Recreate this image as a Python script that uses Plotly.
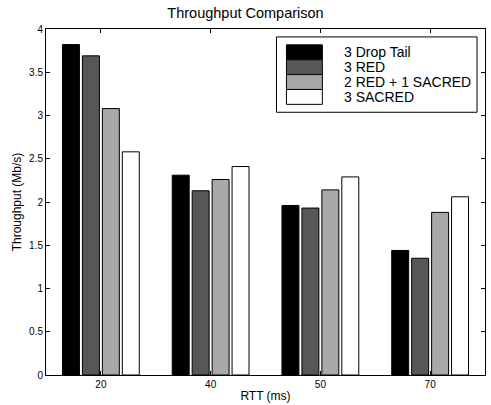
import plotly.graph_objects as go

categories = ["20", "40", "50", "70"]
series_names = ["3 Drop Tail", "3 RED", "2 RED + 1 SACRED", "3 SACRED"]
drop_tail = [3.82, 2.31, 1.96, 1.44]
red = [3.69, 2.13, 1.93, 1.35]
red_sacred = [3.08, 2.26, 2.14, 1.88]
sacred = [2.58, 2.41, 2.29, 2.06]
y_ticks = [0, 0.5, 1, 1.5, 2, 2.5, 3, 3.5, 4]
y_tick_labels = ["0", "0.5", "1", "1.5", "2", "2.5", "3", "3.5", "4"]

colors = ["#000000", "#575757", "#a9a9a9", "#ffffff"]
series = [drop_tail, red, red_sacred, sacred]

fig = go.Figure()
for name, vals, col in zip(series_names, series, colors):
    fig.add_trace(go.Bar(
        x=categories, y=vals, name=name,
        marker=dict(color=col, line=dict(color="#000000", width=1)),
        showlegend=False,
    ))

FONT = "Liberation Sans, Arial, sans-serif"

# Custom legend (box, swatches, labels) in paper coordinates
L, T, W, H = 46, 29, 440, 349  # plot area in px
def px_x(p):
    return (p - L) / W
def px_y(p):
    return 1 - (p - T) / H

shapes = [dict(type="rect", xref="paper", yref="paper",
               x0=px_x(277), x1=px_x(478), y0=px_y(113), y1=px_y(37),
               line=dict(color="black", width=1), fillcolor="white", layer="above")]
annotations = []
for i, (name, col) in enumerate(zip(series_names, colors)):
    top = 45 + i * 15
    shapes.append(dict(type="rect", xref="paper", yref="paper",
                       x0=px_x(287), x1=px_x(323), y0=px_y(top + 15), y1=px_y(top),
                       line=dict(color="black", width=1), fillcolor=col, layer="above"))
    annotations.append(dict(xref="paper", yref="paper", x=px_x(343), y=px_y(top + 7.5),
                            xanchor="left", yanchor="middle", text=name, showarrow=False,
                            font=dict(family=FONT, size=14, color="black")))

fig.update_layout(
    width=491, height=405,
    margin=dict(l=46, r=5, t=29, b=27),
    paper_bgcolor="white", plot_bgcolor="white",
    font=dict(family=FONT, size=10, color="black"),
    title=dict(text="Throughput Comparison", x=0.5, xanchor="center",
               y=1 - 13 / 405, yanchor="middle",
               font=dict(family=FONT, size=14.5, color="black")),
    barmode="group", bargap=0.273, bargroupgap=0.15,
    shapes=shapes, annotations=annotations,
    xaxis=dict(range=[-0.5, 3.5], showline=True, mirror="ticks", linecolor="black",
               linewidth=1, ticks="inside", ticklen=4, tickcolor="black",
               showgrid=False, zeroline=False,
               title=dict(text="RTT (ms)", standoff=2, font=dict(family=FONT, size=12)),
               tickfont=dict(family=FONT, size=10)),
    yaxis=dict(range=[0, 4], tickvals=y_ticks, ticktext=y_tick_labels,
               showline=True, mirror="ticks", linecolor="black", linewidth=1,
               ticks="inside", ticklen=4, tickcolor="black", showgrid=False, zeroline=False,
               title=dict(text="Throughput (Mb/s)", standoff=4, font=dict(family=FONT, size=12)),
               tickfont=dict(family=FONT, size=10)),
)

fig.write_html("out.html", config={"displayModeBar": False},
               post_script="document.body.style.margin='0px';document.body.style.overflow='hidden';")
